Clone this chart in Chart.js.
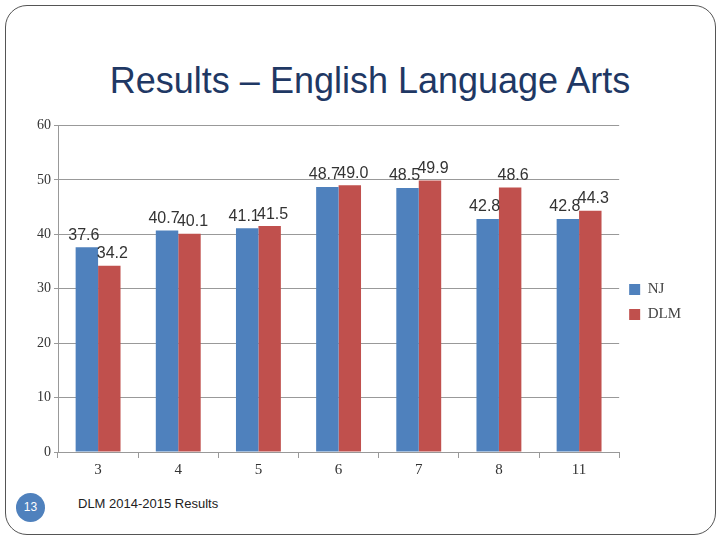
<!DOCTYPE html>
<html><head><meta charset="utf-8">
<script src="https://cdn.jsdelivr.net/npm/chart.js@4"></script>
<style>
body{margin:0;width:720px;height:540px;background:#fff;position:relative;font-family:"Liberation Sans",Arial,sans-serif;overflow:hidden}
#frame{position:absolute;left:5px;top:5px;width:709px;height:528px;border:1px solid #555;border-radius:22px}
#title{position:absolute;left:0;width:740px;top:60px;text-align:center;font-size:36px;color:#1f3864}
#wrap{position:absolute;left:34px;top:114px;width:657px;height:368px}
#num{position:absolute;left:16px;top:493px;width:29px;height:29px;border-radius:50%;background:#4f81bd;color:#fff;font-size:12px;text-align:center;line-height:29px}
#foot{position:absolute;left:78px;top:496px;font-size:13px;color:#222}
</style></head><body>
<div id="frame"></div>
<div id="title">Results – English Language Arts</div>
<div id="wrap"><canvas id="c"></canvas></div>
<div id="num">13</div>
<div id="foot">DLM 2014-2015 Results</div>
<script>
const categories=["3","4","5","6","7","8","11"];
const nj=[37.6,40.7,41.1,48.7,48.5,42.8,42.8];
const dlm=[34.2,40.1,41.5,49.0,49.9,48.6,44.3];
const yTicks=[0,10,20,30,40,50,60];
const labelsPlugin={id:'lbl',afterDatasetsDraw(ch){const ctx=ch.ctx;ctx.save();ctx.font='16px "Liberation Sans",Arial';ctx.fillStyle='#333';ctx.textAlign='center';ctx.textBaseline='bottom';
ch.data.datasets.forEach((ds,i)=>{ch.getDatasetMeta(i).data.forEach((b,j)=>{const v=ds.data[j];const dx=i===0?-3:3;ctx.fillText(v.toFixed(1),b.x+dx,b.y-4);});});ctx.restore();}};
new Chart(document.getElementById('c'),{type:'bar',data:{labels:categories,datasets:[
{label:'NJ',data:nj,backgroundColor:'#4f81bd',categoryPercentage:0.56,barPercentage:1},
{label:'DLM',data:dlm,backgroundColor:'#c0504d',categoryPercentage:0.56,barPercentage:1}]},
options:{responsive:true,maintainAspectRatio:false,animation:false,
layout:{padding:{top:8,right:0}},
plugins:{legend:{position:'right',align:'center',labels:{boxWidth:11,boxHeight:11,font:{family:'Liberation Serif',size:15},color:'#444'}},tooltip:{enabled:false}},
scales:{x:{grid:{display:true,drawOnChartArea:false,tickLength:6,color:'#999'},border:{color:'#999'},ticks:{font:{family:'Liberation Serif',size:15},color:'#333'}},
y:{min:0,max:60,afterBuildTicks(a){a.ticks=yTicks.map(v=>({value:v}));},grid:{color:'#999',tickLength:4},border:{color:'#999'},ticks:{font:{family:'Liberation Serif',size:14},color:'#333'}}}},
plugins:[labelsPlugin]});
</script></body></html>
